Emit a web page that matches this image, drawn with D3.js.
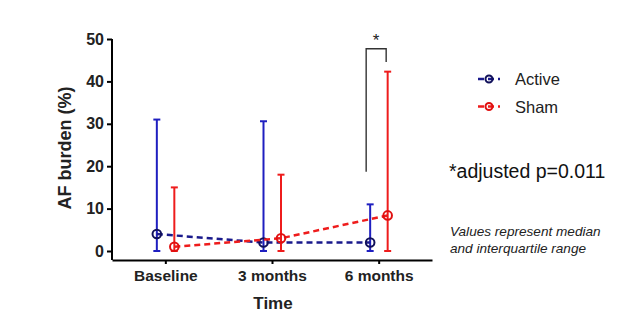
<!DOCTYPE html>
<html><head><meta charset="utf-8">
<script src="https://cdn.jsdelivr.net/npm/d3@7"></script>
<style>body{margin:0;background:#fff}svg{display:block}text{font-family:Arial,"Liberation Sans",sans-serif}</style>
</head><body><svg id="c" width="640" height="331"></svg>
<script>
const categories = ["Baseline", "3 months", "6 months"];
const activeMedian = [4, 2, 2];
const activeQ1 = [0, 0, 0];
const activeQ3 = [31, 30.6, 11];
const shamMedian = [1, 3, 8.4];
const shamQ1 = [0, 0, 0];
const shamQ3 = [15, 18, 42.3];
const yTicks = [0, 10, 20, 30, 40, 50];
const bracket = {left: 18.7, top: 47.7, right: 44.6};

const svg = d3.select("#c");
const x = d3.scalePoint().domain(categories).range([112, 432]).padding(0.5);
const y = d3.scaleLinear().domain([0, 50]).range([251, 39]);

// axes
const yAxis = svg.append("g").attr("transform","translate(112,0)")
  .call(d3.axisLeft(y).tickValues(yTicks).tickSize(5).tickPadding(3));
yAxis.select(".domain").remove();
yAxis.append("line").attr("x1",0).attr("x2",0).attr("y1",y(50)).attr("y2",260).attr("stroke","#000").attr("stroke-width",2);
yAxis.selectAll(".tick line").attr("stroke-width",2);
yAxis.selectAll(".tick text").attr("font-size",16).attr("font-weight","bold").attr("fill","#222");

const xAxis = svg.append("g").attr("transform","translate(0,260)")
  .call(d3.axisBottom(x).tickSize(4).tickPadding(6).tickSizeOuter(0));
xAxis.select(".domain").attr("stroke-width",2);
xAxis.selectAll(".tick line").attr("stroke-width",2);
xAxis.selectAll(".tick text").attr("font-size",15.5).attr("font-weight","bold").attr("fill","#222");

svg.append("text").attr("transform","translate(71,148) rotate(-90)").attr("text-anchor","middle")
  .attr("font-size",18).attr("font-weight","bold").attr("fill","#222").text("AF burden (%)");
svg.append("text").attr("x",273).attr("y",309).attr("text-anchor","middle")
  .attr("font-size",17).attr("font-weight","bold").attr("fill","#222").text("Time");

const series = [
  {name:"Active", med:activeMedian, q1:activeQ1, q3:activeQ3, off:-8.5, line:"#1a1a8c", bar:"#1f1fc0", pt:"#10105a"},
  {name:"Sham", med:shamMedian, q1:shamQ1, q3:shamQ3, off:9, line:"#ee1c1c", bar:"#ee1c1c", pt:"#e01010"}
];

series.forEach(s => {
  const g = svg.append("g");
  categories.forEach((c,i) => {
    const cx = x(c)+s.off;
    g.append("line").attr("x1",cx).attr("x2",cx).attr("y1",y(s.q1[i])).attr("y2",y(s.q3[i])).attr("stroke",s.bar).attr("stroke-width",2);
    [s.q1[i], s.q3[i]].forEach(v => g.append("line").attr("x1",cx-3.5).attr("x2",cx+3.5).attr("y1",y(v)).attr("y2",y(v)).attr("stroke",s.bar).attr("stroke-width",2));
  });
  g.append("path").datum(categories.map((c,i)=>[x(c)+s.off, y(s.med[i])]))
    .attr("d", d3.line()).attr("fill","none").attr("stroke",s.line).attr("stroke-width",2.5).attr("stroke-dasharray","6,4");
  categories.forEach((c,i) => {
    g.append("circle").attr("cx",x(c)+s.off).attr("cy",y(s.med[i])).attr("r",4.3)
      .attr("fill","none").attr("stroke",s.pt).attr("stroke-width",2);
  });
});

// significance bracket
const bx1 = x(categories[2]) - 12.5, bx2 = x(categories[2]) + 7.5;
svg.append("path").attr("d", d3.line()([[bx1,y(bracket.left)],[bx1,y(bracket.top)],[bx2,y(bracket.top)],[bx2,y(bracket.right)]]))
  .attr("fill","none").attr("stroke","#333").attr("stroke-width",1.4);
svg.append("text").attr("x",(bx1+bx2)/2).attr("y",46).attr("text-anchor","middle").attr("font-size",17).attr("fill","#222").text("*");

// legend
series.forEach((s,i) => {
  const ly = 79 + i*27.5;
  svg.append("line").attr("x1",478).attr("x2",500).attr("y1",ly).attr("y2",ly).attr("stroke",s.line).attr("stroke-width",2.5).attr("stroke-dasharray","6,4");
  svg.append("circle").attr("cx",489).attr("cy",ly).attr("r",3.5).attr("fill","none").attr("stroke",s.pt).attr("stroke-width",2);
  svg.append("text").attr("x",515).attr("y",ly+6).attr("font-size",16.5).attr("fill","#222").text(s.name);
});

svg.append("text").attr("x",449).attr("y",178).attr("font-size",19.5).attr("fill","#111").text("*adjusted p=0.011");
svg.append("text").attr("x",450).attr("y",236).attr("font-size",13.6).attr("font-style","italic").attr("fill","#222").text("Values represent median");
svg.append("text").attr("x",450).attr("y",253).attr("font-size",13.6).attr("font-style","italic").attr("fill","#222").text("and interquartile range");
</script></body></html>
